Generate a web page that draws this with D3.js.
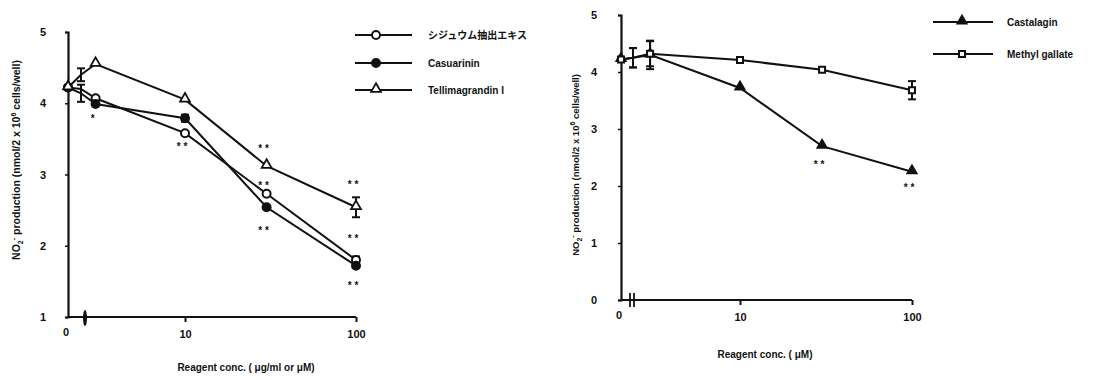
<!DOCTYPE html>
<html>
<head>
<meta charset="utf-8">
<script src="https://cdn.jsdelivr.net/npm/d3@7"></script>
<style>
  body { margin: 0; background: #fff; }
  svg text { font-family: "Liberation Sans", "DejaVu Sans", sans-serif; fill: #111; }
  .jp { font-family: "Noto Sans CJK JP", sans-serif; }
</style>
</head>
<body>
<div id="chart"></div>
<script>
// Concentrations (0 and 1 sit before the axis break).
var concs = [0, 1, 3, 10, 30, 100];

// Left panel values (nmol NO2-).
var syzygium       = [4.22, 4.20, 4.07, 3.58, 2.73, 1.80];
var casuarinin     = [4.22, 4.14, 3.99, 3.79, 2.54, 1.72];
var tellimagrandin = [4.22, 4.40, 4.55, 4.05, 3.12, 2.54];
var syzygiumErr       = [0, 0, 0, 0, 0, 0.05];
var casuarininErr     = [0, 0.12, 0, 0.05, 0, 0];
var tellimagrandinErr = [0, 0.09, 0, 0, 0, 0.14];

// Right panel values.
var castalagin    = [4.22, 4.25, 4.30, 3.72, 2.70, 2.25];
var methylGallate = [4.22, 4.25, 4.32, 4.21, 4.04, 3.68];
var castalaginErr    = [0, 0.17, 0.25, 0, 0, 0];
var methylGallateErr = [0, 0.17, 0.22, 0, 0, 0.16];

// Significance marks: [conc, y value, label]
var leftStars  = [[3, 3.81, "*"], [10, 3.41, "* *"], [30, 3.39, "* *"], [30, 2.87, "* *"],
                  [30, 2.24, "* *"], [100, 2.88, "* *"], [100, 2.12, "* *"], [100, 1.46, "* *"]];
var rightStars = [[30, 2.40, "* *"], [100, 2.00, "* *"]];

var leftYTicks  = [1, 2, 3, 4, 5];
var rightYTicks = [0, 1, 2, 3, 4, 5];
var xTickLabels = [10, 100];

var svg = d3.select("#chart").append("svg")
    .attr("width", 1100).attr("height", 380);

// Marker drawing
function marker(g, type, cx, cy) {
  if (type === "openCircle" || type === "filledCircle") {
    g.append("circle").attr("cx", cx).attr("cy", cy).attr("r", 4)
      .attr("fill", type === "filledCircle" ? "#111" : "#fff")
      .attr("stroke", "#111").attr("stroke-width", 2);
  } else if (type === "openTri" || type === "filledTri") {
    var sym = d3.symbol().type(d3.symbolTriangle).size(type === "filledTri" ? 38 : 42);
    g.append("path").attr("d", sym()).attr("transform", "translate(" + cx + "," + (cy - 1) + ")")
      .attr("fill", type === "filledTri" ? "#111" : "#fff")
      .attr("stroke", "#111").attr("stroke-width", 1.8);
  } else if (type === "openSquare") {
    var sq = d3.symbol().type(d3.symbolSquare).size(36);
    g.append("path").attr("d", sq()).attr("transform", "translate(" + cx + "," + cy + ")")
      .attr("fill", "#fff").attr("stroke", "#111").attr("stroke-width", 2);
  }
}

function drawPanel(p) {
  var g = svg.append("g");
  var y = d3.scaleLinear().domain(p.yDomain).range([p.yBottom, p.yTop]);
  var xLog = d3.scaleLog().domain([10, 100]).range([p.x10, p.x100]);
  var xPre = d3.scaleLinear().domain([0, 1]).range([p.x0, p.x1]);
  var x = function (c) { return c <= 1 ? xPre(c) : xLog(c); };

  // y axis
  var yAxis = d3.axisLeft(y).tickValues(p.yTicks).tickSize(3).tickPadding(p.yPad)
      .tickFormat(d3.format("d"));
  var ya = g.append("g").attr("transform", "translate(" + p.x0 + ",0)").call(yAxis);
  ya.select(".domain").attr("stroke", "#111").attr("stroke-width", 2.2);
  ya.selectAll(".tick line").attr("stroke", "#111").attr("stroke-width", 1.5);
  ya.selectAll("text").style("font-size", "11px").style("font-weight", "bold").attr("fill", "#111");

  // x axis
  var xAxis = d3.axisBottom(xLog).tickValues(xTickLabels).tickSize(5).tickPadding(8)
      .tickFormat(d3.format("d"));
  var xa = g.append("g").attr("transform", "translate(0," + p.yBottom + ")").call(xAxis);
  xa.select(".domain").remove();
  xa.selectAll(".tick line").attr("stroke", "#111").attr("stroke-width", 2);
  xa.selectAll("text").style("font-size", "11px").style("font-weight", "bold").attr("fill", "#111");
  g.append("line").attr("x1", p.x0).attr("x2", p.x100)
    .attr("y1", p.yBottom).attr("y2", p.yBottom).attr("stroke", "#111").attr("stroke-width", 2.2);
  g.append("text").attr("x", p.x0 - 2).attr("y", p.yBottom + 19).attr("text-anchor", "middle")
    .style("font-size", "11px").style("font-weight", "bold").text("0");

  // axis break mark
  if (p.breakStyle === "blob") {
    g.append("ellipse").attr("cx", p.xBreak).attr("cy", p.yBottom + 1).attr("rx", 2).attr("ry", 8)
      .attr("fill", "#111");
  } else {
    [-2, 2].forEach(function (o) {
      g.append("line").attr("x1", p.xBreak + o).attr("x2", p.xBreak + o)
        .attr("y1", p.yBottom - 7).attr("y2", p.yBottom + 7)
        .attr("stroke", "#111").attr("stroke-width", 1.8);
    });
  }

  // series
  var line = d3.line().x(function (d) { return x(d[0]); }).y(function (d) { return y(d[1]); });
  p.series.forEach(function (s) {
    var pts = concs.map(function (c, i) { return [c, s.values[i], s.err[i]]; });
    g.append("path").datum(pts).attr("d", line).attr("fill", "none")
      .attr("stroke", "#111").attr("stroke-width", 2);
    pts.forEach(function (d) {
      if (d[2] > 0) {
        var xx = x(d[0]);
        g.append("line").attr("x1", xx).attr("x2", xx).attr("y1", y(d[1] + d[2])).attr("y2", y(d[1] - d[2]))
          .attr("stroke", "#111").attr("stroke-width", 2);
        [d[1] + d[2], d[1] - d[2]].forEach(function (v) {
          g.append("line").attr("x1", xx - 4).attr("x2", xx + 4).attr("y1", y(v)).attr("y2", y(v))
            .attr("stroke", "#111").attr("stroke-width", 2);
        });
      }
    });
  });
  p.series.forEach(function (s) {
    concs.forEach(function (c, i) {
      if (c === 1) return; // hidden behind error bars
      marker(g, s.marker, x(c), y(s.values[i]));
    });
  });

  // significance stars
  p.stars.forEach(function (st) {
    g.append("text").attr("x", x(st[0]) - 3).attr("y", y(st[1]) + 5).attr("text-anchor", "middle")
      .style("font-size", "10px").style("font-weight", "bold").text(st[2]);
  });

  // axis titles
  g.append("text").attr("transform", "translate(" + p.yLabelX + "," + p.yLabelY + ") rotate(-90)")
    .attr("text-anchor", "middle").style("font-size", p.yLabelSize).style("font-weight", "bold")
    .html('NO<tspan font-size="7" dy="3">2</tspan><tspan font-size="7" dy="-7">-</tspan><tspan dy="4"> production (nmol/2 x 10</tspan><tspan font-size="7" dy="-4">6</tspan><tspan dy="4"> cells/well)</tspan>');
  g.append("text").attr("x", p.xLabelX).attr("y", p.xLabelY).attr("text-anchor", "middle")
    .style("font-size", "10px").style("font-weight", "bold").text(p.xLabel);

  // legend
  p.series.forEach(function (s, i) {
    var ly = p.legY[i];
    g.append("line").attr("x1", p.legX1).attr("x2", p.legX2).attr("y1", ly).attr("y2", ly)
      .attr("stroke", "#111").attr("stroke-width", 2);
    marker(g, s.marker, p.legM, ly);
    g.append("text").attr("x", p.legT).attr("y", ly + 4)
      .attr("class", s.jp ? "jp" : null)
      .style("font-size", "10px").style("font-weight", "bold").text(s.name);
  });
}

drawPanel({
  yDomain: [1, 5], yTop: 32, yBottom: 317, yTicks: leftYTicks, yPad: 19,
  x0: 68, x1: 81, x10: 185, x100: 356, xBreak: 85, breakStyle: "blob",
  series: [
    { name: "シジュウム抽出エキス", values: syzygium, err: syzygiumErr, marker: "openCircle", jp: true },
    { name: "Casuarinin", values: casuarinin, err: casuarininErr, marker: "filledCircle" },
    { name: "Tellimagrandin  I", values: tellimagrandin, err: tellimagrandinErr, marker: "openTri" }
  ],
  stars: leftStars,
  yLabelX: 20, yLabelY: 160, yLabelSize: "10.5px",
  xLabel: "Reagent conc. ( \u03bcg/ml or \u03bcM)", xLabelX: 246, xLabelY: 371,
  legX1: 355, legX2: 412, legM: 376, legT: 428, legY: [35, 63, 90]
});

drawPanel({
  yDomain: [0, 5], yTop: 15, yBottom: 300, yTicks: rightYTicks, yPad: 21,
  x0: 621, x1: 633, x10: 740, x100: 912, xBreak: 632, breakStyle: "double",
  series: [
    { name: "Castalagin", values: castalagin, err: castalaginErr, marker: "filledTri" },
    { name: "Methyl gallate", values: methylGallate, err: methylGallateErr, marker: "openSquare" }
  ],
  stars: rightStars,
  yLabelX: 579, yLabelY: 165, yLabelSize: "9.5px",
  xLabel: "Reagent conc. ( \u03bcM)", xLabelX: 765, xLabelY: 358,
  legX1: 933, legX2: 993, legM: 962, legT: 1007, legY: [22, 54]
});
</script>
</body>
</html>
